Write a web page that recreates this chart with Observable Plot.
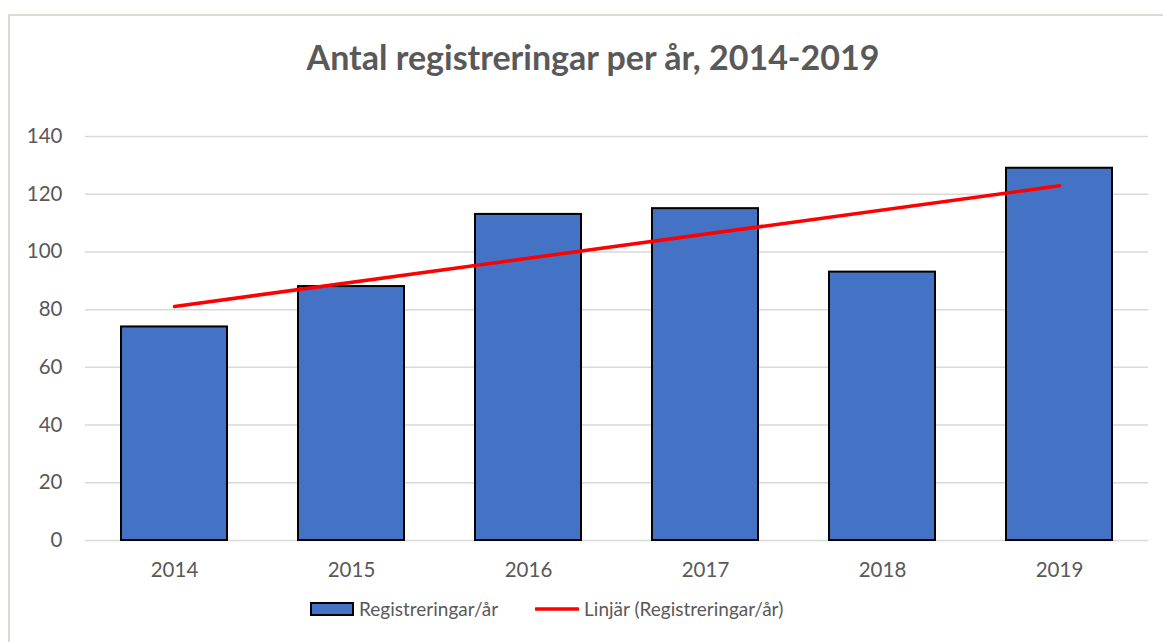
<!DOCTYPE html>
<html>
<head>
<meta charset="utf-8">
<script src="https://cdn.jsdelivr.net/npm/d3@7"></script>
<script src="https://cdn.jsdelivr.net/npm/@observablehq/plot@0.6"></script>
<style>
  html, body { margin: 0; padding: 0; background: #fff; }
  body { width: 1163px; height: 642px; position: relative; overflow: hidden; font-family: Lato, "Open Sans", sans-serif; }
  #frame { position: absolute; left: 8px; top: 14px; width: 1200px; height: 700px; border-top: 2px solid #dcdcce; border-left: 2px solid #dcdcce; }
  #title { position: absolute; left: 0; width: 1186px; top: 36px; text-align: center; font-weight: 700; font-size: 34px; color: #595959; }
  #chart { position: absolute; left: 0; top: 100px; }
  #legend { position: absolute; left: 310px; top: 597px; display: flex; align-items: center; font-size: 19px; color: #595959; }
  #legend .item { display: flex; align-items: center; }
  #legend svg { display: block; }
</style>
</head>
<body>
<div id="frame"></div>
<div id="title">Antal registreringar per år, 2014-2019</div>
<div id="chart"></div>
<div id="legend">
  <div class="item">
    <svg width="44" height="16"><rect x="1" y="2" width="42" height="12" fill="#4472C4" stroke="#000" stroke-width="2"/></svg>
    <span style="margin-left:5px">Registreringar/år</span>
  </div>
  <div class="item" style="margin-left:37px">
    <svg width="44" height="16"><line x1="1" y1="8" x2="43" y2="8" stroke="#FF0000" stroke-width="3.5" stroke-linecap="round"/></svg>
    <span style="margin-left:5px">Linjär (Registreringar/år)</span>
  </div>
</div>
<script>
const years = ["2014", "2015", "2016", "2017", "2018", "2019"];
const registrations = [74, 88, 113, 115, 93, 129];
const trendYears = ["2014", "2019"];
const trendValues = [81.1, 122.9];
const yTicks = [0, 20, 40, 60, 80, 100, 120, 140];

const bars = years.map((y, i) => ({year: y, value: registrations[i]}));
const trend = trendYears.map((y, i) => ({year: y, value: trendValues[i]}));

const chart = Plot.plot({
  width: 1163,
  height: 500,
  marginTop: 36,
  marginBottom: 60,
  marginLeft: 85,
  marginRight: 15,
  style: { fontFamily: "Lato, 'Open Sans', sans-serif", fontSize: "20.5px", color: "#595959", background: "transparent" },
  x: { domain: years, paddingInner: 0.4, paddingOuter: 0.2, label: null },
  y: { domain: [0, 140], ticks: yTicks, label: null },
  marks: [
    Plot.gridY(yTicks, { stroke: "#d9d9d9", strokeOpacity: 1, strokeWidth: 1.5 }),
    Plot.barY(bars, { x: "year", y: "value", fill: "#4472C4", stroke: "#000", strokeWidth: 2 }),
    Plot.line(trend, { x: "year", y: "value", stroke: "#FF0000", strokeWidth: 3.5, strokeLinecap: "round" }),
    Plot.axisY(yTicks, { tickSize: 0, tickPadding: 23, label: null, fill: "#595959", fontSize: 20.5 }),
    Plot.axisX({ tickSize: 0, tickPadding: 22, label: null, fill: "#595959", fontSize: 20.5 })
  ]
});
document.getElementById("chart").appendChild(chart);
</script>
</body>
</html>
